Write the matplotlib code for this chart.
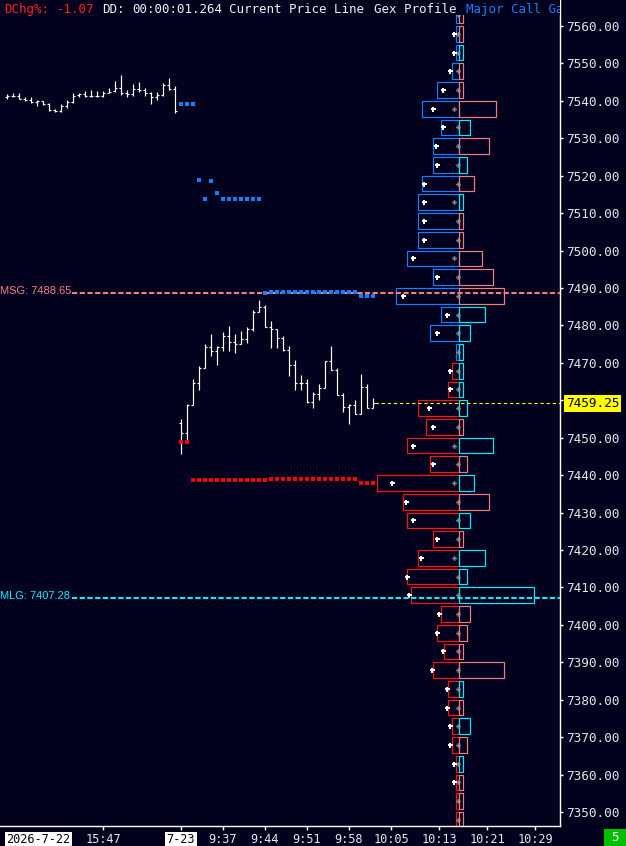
import numpy as np
import matplotlib
matplotlib.use("Agg")
import matplotlib.pyplot as plt
from matplotlib.patches import Rectangle
from matplotlib.ticker import FormatStrFormatter

# ---------------- data ----------------
# session 1 (2026-7-22, 15:31 .. 15:59), one bar per minute
s1_open = [7541.0, 7541.25, 7541.25, 7540.5, 7540.25, 7539.75, 7540.0, 7539.25, 7537.5, 7537.25,
           7538.5, 7539.75, 7541.5, 7541.75, 7541.25, 7541.25, 7541.25, 7542.0, 7542.75, 7543.5,
           7542.0, 7541.75, 7543.25, 7543.0, 7542.0, 7541.0, 7541.5, 7544.25, 7543.25]
s1_high = [7541.75, 7542.0, 7542.0, 7541.0, 7541.0, 7540.25, 7540.0, 7539.5, 7537.75, 7539.25,
           7540.25, 7542.0, 7542.0, 7542.75, 7543.0, 7542.75, 7542.75, 7543.5, 7545.25, 7547.0,
           7543.0, 7544.5, 7545.0, 7543.5, 7542.25, 7542.25, 7544.75, 7546.0, 7544.0]
s1_low = [7540.5, 7541.0, 7540.5, 7540.0, 7539.5, 7538.75, 7539.0, 7537.25, 7537.0, 7537.0,
          7538.0, 7539.5, 7541.0, 7541.0, 7541.0, 7541.0, 7541.0, 7542.0, 7542.5, 7541.5,
          7541.0, 7541.25, 7542.5, 7541.25, 7539.25, 7540.25, 7541.25, 7543.0, 7536.75]
s1_close = [7541.25, 7541.25, 7540.5, 7540.25, 7539.75, 7540.0, 7539.25, 7537.5, 7537.25, 7538.5,
            7539.75, 7541.25, 7541.75, 7541.25, 7541.25, 7541.25, 7542.0, 7542.5, 7543.5, 7542.0,
            7541.75, 7543.25, 7543.0, 7542.0, 7541.0, 7541.5, 7544.25, 7543.25, 7537.25]

# session 2 (2026-7-23, 9:30 .. 10:02)
s2_open = [7454.0, 7451.25, 7458.75, 7464.75, 7468.5, 7474.25, 7473.25, 7474.25, 7477.25, 7475.5,
           7475.0, 7476.25, 7479.0, 7483.5, 7485.0, 7479.5, 7479.0, 7476.75, 7473.5, 7469.5,
           7464.75, 7464.5, 7459.5, 7461.75, 7463.25, 7470.5, 7468.0, 7461.5, 7458.25, 7458.75,
           7456.25, 7463.5, 7458.0]
s2_high = [7455.0, 7459.0, 7465.75, 7469.25, 7475.0, 7477.75, 7474.5, 7478.25, 7479.75, 7477.75,
           7478.5, 7479.5, 7484.25, 7486.75, 7485.5, 7481.25, 7479.0, 7477.25, 7474.5, 7470.75,
           7466.75, 7465.75, 7462.25, 7464.25, 7470.5, 7474.5, 7468.5, 7462.0, 7459.0, 7460.0,
           7467.0, 7464.25, 7460.5]
s2_low = [7445.75, 7448.5, 7458.75, 7462.75, 7468.5, 7471.75, 7469.5, 7473.25, 7473.25, 7472.75,
          7475.0, 7475.25, 7478.5, 7483.5, 7479.5, 7474.0, 7474.0, 7473.25, 7466.5, 7462.75,
          7462.75, 7459.25, 7458.0, 7460.0, 7463.25, 7468.0, 7461.5, 7456.75, 7453.75, 7456.25,
          7456.25, 7458.0, 7458.0]
s2_close = [7451.25, 7458.75, 7464.75, 7468.5, 7474.25, 7473.25, 7474.25, 7477.25, 7475.5, 7475.0,
            7476.25, 7479.0, 7483.5, 7485.0, 7479.5, 7479.0, 7476.75, 7473.5, 7469.5, 7464.75,
            7464.5, 7459.5, 7461.75, 7463.25, 7470.5, 7468.0, 7461.5, 7458.25, 7458.75, 7456.25,
            7463.5, 7458.0, 7459.25]

# Major call / put gamma levels per bar of session 2
call_gamma = [7539.1, 7539.1, 7539.1, 7518.85, 7513.8, 7518.6, 7515.4] + [7513.8] * 7 + \
             [7488.7] + [7488.9] * 15 + [7487.9] * 3
put_gamma = [7448.9, 7448.9] + [7438.7] * 13 + [7439.0] * 15 + [7437.9] * 3

MSG = 7488.65
MLG = 7407.28
CURRENT = 7459.25

# time axis
tick_index = [16, 29, 36, 43, 50, 57, 64, 72, 80, 88]
tick_labels = ["15:47", "7-23", "9:37", "9:44", "9:51", "9:58", "10:05", "10:13", "10:21", "10:29"]
first_date = "2026-7-22"

# Gex profile, strikes from 7560 down to 7345
strikes = list(range(7560, 7344, -5))
gex_left = [1, 1, 1, 2, 6, 10, 5, 7, 7, 10,
            11, 11, 11, 14, 7, 17, 5, 8, 1, 2,
            3, 11, 9, 14, 8, 22, 15, 14, 7, 11,
            14, 13, 5, 6, 4, 7, 3, 3, 2, 2,
            1, 1, 1, 1]
gex_right = [1, 1, 1, 1, 1, 10, 3, 8, 2, 4,
             1, 1, 1, 6, 9, 12, 7, 3, 1, 1,
             1, 2, 1, 9, 2, 4, 8, 3, 1, 7,
             2, 20, 3, 2, 1, 12, 1, 1, 3, 2,
             1, 1, 1, 1]
right_kind = "sscsssc" "scs" "csssssccccc" "csc" "scscsc" "cc" "sssscscs" "csss"
white_val = [np.nan, 1.35, 1.35, 2.4, 4.3, 7.15, 4.3, 6.2, 6.1, 9.4,
             9.4, 9.4, 9.4, 12.4, 6.1, 15.2, 3.2, 6.1, np.nan, 2.4,
             2.4, 8.2, 7.15, 12.4, 7.15, 18.2, 14.25, 12.4, 6.1, 10.2,
             14.1, 13.4, 5.4, 6.1, 4.3, 7.3, 3.2, 3.2, 2.4, 2.4,
             1.35, 1.35, np.nan, np.nan]
gray_val = [0.27] * 44
for k in (5, 10, 13, 23, 25, 29):
    gray_val[k] = 1.35
call_put_pivot = 7467.5

# ---------------- style ----------------
BG = "#02021f"
WHITE = "#ffffff"
BLUE = "#1480ff"
RED = "#ff1414"
SALMON = "#f08080"
CYAN = "#00f0ff"
MONO = "DejaVu Sans Mono"

W, H = 626, 846
fig = plt.figure(figsize=(W / 100, H / 100), dpi=100, facecolor=BG)
ax = fig.add_axes([0, 20 / H, 560 / W, 826 / H])
ax.set_facecolor(BG)
ax.set_xlim(-7 / 6, 553 / 6)
ax.set_ylim(7346.26, 7566.95)

# bars
opens = np.array(s1_open + s2_open)
highs = np.array(s1_high + s2_high)
lows = np.array(s1_low + s2_low)
closes = np.array(s1_close + s2_close)
x = np.arange(len(opens))
tk = 0.36
ax.vlines(x, lows, highs, colors=WHITE, lw=0.85, zorder=3)
ax.hlines(opens, x - tk, x, colors=WHITE, lw=0.85, zorder=3)
ax.hlines(closes, x, x + tk, colors=WHITE, lw=0.85, zorder=3)

x2 = np.arange(len(s1_open), len(s1_open) + len(s2_open))
ax.plot(x2, call_gamma, ls="none", marker="s", ms=2.9, mew=0, color=BLUE, zorder=5)
ax.plot(x2, put_gamma, ls="none", marker="s", ms=2.9, mew=0, color="#ff0000", zorder=5)

# MSG / MLG levels
ax.axhline(MSG, xmin=72 / 560, xmax=1, color=SALMON, lw=1.5, ls=(0, (2.5, 1.2)), zorder=4)
ax.axhline(MLG, xmin=72 / 560, xmax=1, color=CYAN, lw=1.5, ls=(0, (2.5, 1.2)), zorder=4)
ax.annotate(f"MSG: {MSG:.2f}", xy=(0, MSG), xycoords=("axes fraction", "data"),
            xytext=(0.3, 1.2), textcoords="offset points", ha="left", va="center",
            color=SALMON, fontsize=8, family="Liberation Sans", zorder=6)
ax.annotate(f"MLG: {MLG:.2f}", xy=(0, MLG), xycoords=("axes fraction", "data"),
            xytext=(0.3, 1.2), textcoords="offset points", ha="left", va="center",
            color=CYAN, fontsize=8, family="Liberation Sans", zorder=6)

# current price line
ax.hlines(CURRENT, x[-1] + 0.4, 553 / 6, colors="#ffff00", lw=0.8,
          linestyles=(0, (3, 2.5)), zorder=4)

# Gex profile
center = 75.38
unit = 0.62
for i, s in enumerate(strikes):
    lc = BLUE if s > call_put_pivot else RED
    rc = CYAN if right_kind[i] == "c" else SALMON
    wl = gex_left[i] * unit
    wr = gex_right[i] * unit
    ax.add_patch(Rectangle((center - wl, s + 0.8), wl, 4.2, fill=False, ec=lc, lw=0.85, zorder=2))
    ax.add_patch(Rectangle((center, s + 0.8), wr, 4.2, fill=False, ec=rc, lw=0.85, zorder=2.1))
yc = np.array(strikes) + 2.9
ax.plot(center - np.array(gray_val) * unit, yc, ls="none", marker="P", ms=3.4, mew=0,
        color="#8a8a8a", zorder=2.5)
ax.plot(center - np.array(white_val) * unit, yc, ls="none", marker="P", ms=3.6, mew=0,
        color=WHITE, zorder=2.6)

# axes styling
for side in ("top", "left"):
    ax.spines[side].set_visible(False)
for side in ("right", "bottom"):
    ax.spines[side].set_color(WHITE)
    ax.spines[side].set_linewidth(1.0)
ax.yaxis.tick_right()
ax.set_yticks(np.arange(7350, 7561, 10))
ax.yaxis.set_major_formatter(FormatStrFormatter("%.2f"))
ax.tick_params(axis="y", colors=WHITE, length=2.5, width=1, pad=2.2, labelsize=9.2,
               labelcolor="#e4e4e4")
for lab in ax.get_yticklabels():
    lab.set_family(MONO)

ax.set_xticks(tick_index)
ax.set_xticklabels(tick_labels)
ax.tick_params(axis="x", colors=WHITE, length=3, width=1, pad=2, labelsize=8.6,
               labelcolor="#e8e8e8")
for lab in ax.get_xticklabels():
    lab.set_family(MONO)
    if lab.get_text() == "7-23":
        lab.set_color("black")
        lab.set_bbox(dict(boxstyle="square,pad=0.12", fc="white", ec="none"))
ax.annotate(first_date, xy=(0, 0), xycoords=("data", "axes fraction"),
            xytext=(-0.5, -5), textcoords="offset points", ha="left", va="top",
            fontsize=8.6, family=MONO, color="black", annotation_clip=False,
            bbox=dict(boxstyle="square,pad=0.12", fc="white", ec="none"))

# current price label on the axis
ax.annotate(f"{CURRENT:.2f}", xy=(1, CURRENT), xycoords=("axes fraction", "data"),
            xytext=(4.2, 0), textcoords="offset points", ha="left", va="center",
            fontsize=9.2, family=MONO, color="black", annotation_clip=False, zorder=10,
            bbox=dict(boxstyle="square,pad=0.15", fc="#ffff00", ec="none"))

# header band and header text
fig.patches.append(Rectangle((0, 1 - 15 / H), 560 / W, 15 / H, transform=fig.transFigure,
                             fc=BG, ec="none", zorder=5))
header = [("DChg%:", 4, "#ff2020"), ("-1.07", 57, "#ff2020"), ("DD:", 102, "#f0f0f0"),
          ("00:00:01.264", 132, "#f0f0f0"), ("Current Price Line", 229, "#f0f0f0"),
          ("Gex Profile", 374, "#f0f0f0"), ("Major Call Gamma", 466, "#1a7cff")]
for txt, px, col in header:
    t = fig.text(px / W, 1 - 9.5 / H, txt, ha="left", va="center", fontsize=9,
                 family=MONO, color=col, zorder=6)
    t.set_clip_box(ax.bbox)
    t.set_clip_on(True)

# bottom-right counter
fig.patches.append(Rectangle((604 / W, 0), 22 / W, 17 / H, transform=fig.transFigure,
                             fc="#00c000", ec="none", zorder=5))
fig.text(615 / W, 8.5 / H, "5", ha="center", va="center", fontsize=9, family=MONO,
         color="white", zorder=6)

fig.savefig("out.png", dpi=100, facecolor=BG)
